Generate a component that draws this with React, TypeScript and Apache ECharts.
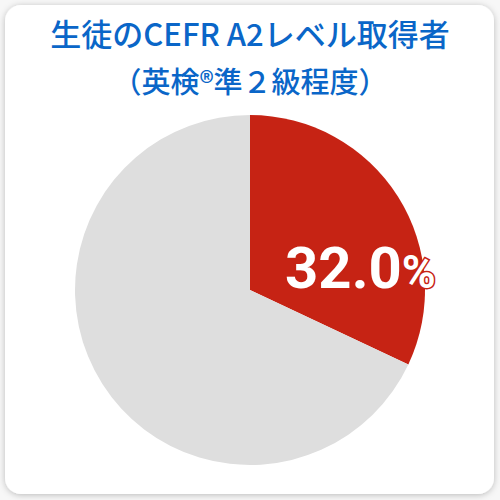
import { useEffect, useRef } from 'react';
import * as echarts from 'echarts';

const titleLines = ['生徒のCEFR A2レベル取得者', '（英検®準２級程度）'];
const sliceNames = ['取得者', 'その他'];
const sliceValues = [32.0, 68.0];
const sliceColors = ['#C62314', '#DEDEDE'];

export default function App() {
  const chartRef = useRef<HTMLDivElement>(null);

  useEffect(() => {
    document.body.style.margin = '0';
    if (!chartRef.current) return;
    const chart = echarts.init(chartRef.current, null, { renderer: 'svg' });
    chart.setOption({
      animation: false,
      backgroundColor: '#F7F7F7',
      graphic: [
        {
          type: 'rect',
          z: -10,
          shape: { x: 5, y: 5, width: 489, height: 489, r: 16 },
          style: {
            fill: '#fff',
            shadowBlur: 6,
            shadowOffsetY: 1,
            shadowColor: 'rgba(0,0,0,0.25)',
          },
        },
      ],
      title: titleLines.map((t, i) => ({
        text: t,
        left: 'center',
        top: [12, 60][i],
        textStyle: {
          fontFamily: '"Noto Sans CJK JP", sans-serif',
          fontSize: [31, 29][i],
          fontWeight: 500,
          color: '#0A66C8',
        },
      })),
      series: [
        {
          type: 'pie',
          center: [250, 290],
          radius: 175,
          startAngle: 90,
          clockwise: true,
          silent: true,
          labelLine: { show: false },
          data: sliceNames.map((name, i) => ({
            name,
            value: sliceValues[i],
            itemStyle: { color: sliceColors[i] },
            label:
              i === 0
                ? {
                    show: true,
                    position: 'inside',
                    offset: [34, 26],
                    formatter: (p: any) => `{n|${p.value.toFixed(1)}}{p|%}`,
                    rich: {
                      n: {
                        fontFamily: 'Roboto, sans-serif',
                        fontSize: 58,
                        fontWeight: 'bold',
                        color: '#fff',
                        textBorderColor: sliceColors[0],
                        textBorderWidth: 3,
                      },
                      p: {
                        fontFamily: 'Roboto, sans-serif',
                        fontSize: 46,
                        fontWeight: 'bold',
                        color: '#fff',
                        textBorderColor: sliceColors[0],
                        textBorderWidth: 3,
                        padding: [8, 0, 0, 0],
                      },
                    },
                  }
                : { show: false },
          })),
        },
      ],
    });
    return () => chart.dispose();
  }, []);

  return <div ref={chartRef} style={{ width: 500, height: 500 }} />;
}
